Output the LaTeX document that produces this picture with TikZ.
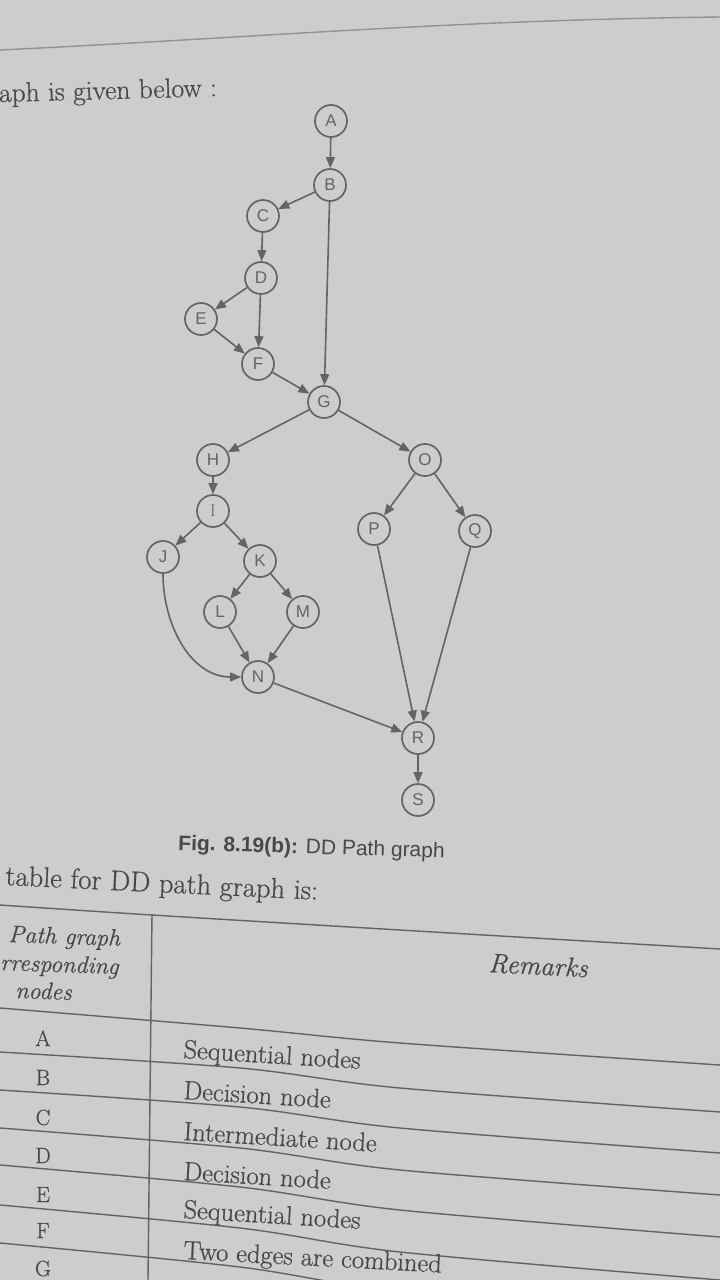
\documentclass[tikz,border=0pt]{standalone}
\usepackage{fontspec}
\newfontfamily\knotenfont{Liberation Sans}
\newfontfamily\buchfont{Latin Modern Roman}[FakeBold=0.6]
\usetikzlibrary{arrows.meta}
\definecolor{papier}{RGB}{205,206,203}
\definecolor{kante}{RGB}{100,100,98}
\definecolor{schrift}{RGB}{72,72,70}

\tikzset{
  knoten/.style={circle, draw=kante, line width=1.7pt, fill=papier, minimum size=32pt, inner sep=0pt, text=kante, font=\knotenfont\fontsize{17}{17}\selectfont},
  zeile/.style={anchor=base west, inner sep=0pt, text=schrift, font=\buchfont\fontsize{26.5}{26.5}\selectfont},
  linie/.style={draw=schrift!85, line width=1.4pt},
}

\begin{document}
\begin{tikzpicture}[x=1pt, y=-1pt, >={Triangle[length=11pt,width=9pt]}]

	\useasboundingbox (0,0) rectangle (720,1280);
	\clip (0,0) rectangle (720,1280);
	\fill[papier] (0,0) rectangle (720,1280);

	% page edge at the top
	\draw[linie, draw=kante!70] (0,50) .. controls (250,38) and (450,20) .. (720,17);

	\node[zeile, font=\buchfont\fontsize{27.5}{27.5}\selectfont, rotate=1.5] (einleitung) at (-1,102) {aph is given below :};

	% DD path graph
	\node[knoten] (A) at (331,121) {A};
	\node[knoten] (B) at (330,185) {B};
	\node[knoten] (C) at (263,216) {C};
	\node[knoten] (D) at (261,278) {D};
	\node[knoten] (E) at (201,319) {E};
	\node[knoten] (F) at (258,364) {F};
	\node[knoten] (G) at (324,402) {G};
	\node[knoten] (H) at (213,460) {H};
	\node[knoten] (I) at (213,511) {\rmfamily I};
	\node[knoten] (J) at (163,557) {J};
	\node[knoten] (K) at (260,561) {K};
	\node[knoten] (L) at (220,612) {L};
	\node[knoten] (M) at (303,612) {M};
	\node[knoten] (N) at (258,677) {N};
	\node[knoten] (O) at (425,460) {O};
	\node[knoten] (P) at (374,529) {P};
	\node[knoten] (Q) at (475,531) {Q};
	\node[knoten] (R) at (418,738) {R};
	\node[knoten] (S) at (418,800) {S};

	\begin{scope}[kante, line width=1.6pt]
		\foreach \von/\nach in {A/B, B/C, B/G, C/D, D/E, D/F, E/F, F/G, G/H, G/O, H/I, I/J, I/K, K/L, K/M, L/N, M/N, N/R, O/P, O/Q, P/R, Q/R, R/S}
			\draw[->] (\von) -- (\nach);
		\draw[->] (J) to[out=-90, in=180] (N);
	\end{scope}

	\node[anchor=base west, inner sep=0pt, text=schrift, font=\knotenfont\fontsize{21}{21}\selectfont, rotate=-1.7] (titel) at (178,850) {\textbf{Fig. 8.19(b):} DD Path graph};

	\node[zeile, font=\buchfont\fontsize{28.5}{28.5}\selectfont, rotate=-2.7] (tabtext) at (5,885) {table for DD path graph is:};

	% table
	\draw[linie] plot[smooth] coordinates {(0,905) (152,915) (400,930) (720,949)};
	\draw[linie] plot[smooth] coordinates {(0,1008) (240,1028) (400,1043) (720,1065)};
	\draw[linie] plot[smooth] coordinates {(0,1052) (240,1068) (400,1088) (720,1112)};
	\draw[linie] plot[smooth] coordinates {(0,1090) (240,1107) (400,1128) (720,1153)};
	\draw[linie] plot[smooth] coordinates {(0,1128) (240,1148) (400,1170) (720,1195)};
	\draw[linie] plot[smooth] coordinates {(0,1165) (240,1187) (400,1210) (720,1237)};
	\draw[linie] plot[smooth] coordinates {(0,1205) (240,1228) (400,1252) (720,1280)};
	\draw[linie] plot[smooth] coordinates {(0,1243) (240,1267) (400,1292) (720,1322)};
	\draw[linie] (152,914) -- (148,1280);

	\node[zeile, font=\buchfont\itshape\fontsize{24}{24}\selectfont, rotate=-2] (kopfa) at (8,942) {Path graph};
	\node[zeile, font=\buchfont\itshape\fontsize{24}{24}\selectfont, rotate=-2] (kopfb) at (0,970) {rresponding};
	\node[zeile, font=\buchfont\itshape\fontsize{24}{24}\selectfont, rotate=-2] (kopfc) at (15,998) {nodes};
	\node[zeile, font=\buchfont\itshape\fontsize{27}{27}\selectfont, rotate=-3] (kopfd) at (488,972) {Remarks};

	\foreach \buchst/\y in {A/1046, B/1085, C/1125, D/1163, E/1202, F/1238, G/1276}
		\node[anchor=base, inner sep=0pt, text=schrift, font=\buchfont\fontsize{22}{22}\selectfont] (z\buchst) at (43,\y) {\buchst};

	\foreach \bemerkung/\y in {Sequential nodes/1058, Decision node/1099, Intermediate node/1140, Decision node/1180, Sequential nodes/1218}
		\node[zeile, rotate=-3.5] at (183,\y) {\bemerkung};
	\node[zeile, rotate=-3] (letzte) at (183,1259) {Two edges are combined};

\end{tikzpicture}
\end{document}
